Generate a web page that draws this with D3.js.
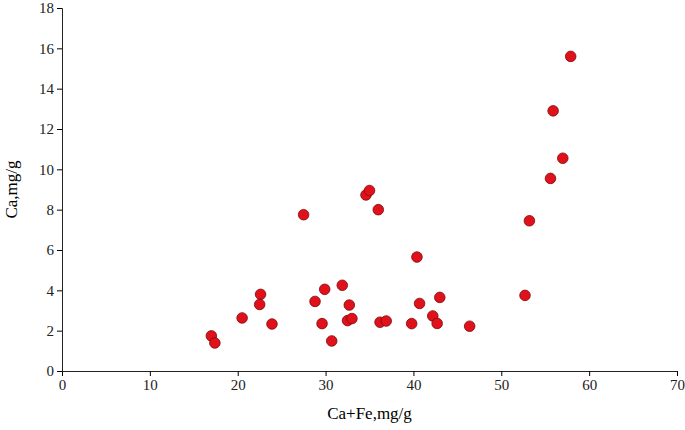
<!DOCTYPE html>
<html><head><meta charset="utf-8">
<script src="https://cdn.jsdelivr.net/npm/d3@7"></script>
<style>body{margin:0;background:#fff}svg text{font-family:"Liberation Serif",serif !important}</style>
</head><body><svg width="685" height="430"></svg>
<script>
// Ca+Fe (mg/g) vs Ca (mg/g)
const caFe = [17.0,17.4,20.5,22.6,22.5,23.9,27.5,28.8,29.6,29.9,30.7,31.9,32.5,32.7,33.0,34.6,35.0,36.0,36.2,36.9,39.8,40.4,40.7,42.2,42.7,43.0,46.4,52.7,53.2,55.6,55.9,57.0,57.9];
const ca   = [1.74,1.39,2.63,3.8,3.3,2.33,7.75,3.45,2.35,4.05,1.49,4.25,2.5,3.27,2.6,8.73,8.95,8.0,2.42,2.48,2.35,5.65,3.35,2.73,2.36,3.65,2.22,3.75,7.45,9.55,12.9,10.55,15.6];
const xTicks = [0,10,20,30,40,50,60,70];
const yTicks = [0,2,4,6,8,10,12,14,16,18];

const margin = {top: 8, right: 8, bottom: 59, left: 62};
const svg = d3.select("svg");
const height = 430 - margin.top - margin.bottom;
const g = svg.append("g").attr("transform", `translate(${margin.left},${margin.top})`);

const x = d3.scaleLinear().domain([0, 70]).range([0, 615]);
const y = d3.scaleLinear().domain([0, 18]).range([height, 0]);

const xa = g.append("g").attr("transform", `translate(0,${height})`)
    .call(d3.axisBottom(x).tickValues(xTicks).tickSizeOuter(0).tickSize(5));
const ya = g.append("g")
    .call(d3.axisLeft(y).tickValues(yTicks).tickSizeOuter(0).tickSize(5));
[xa, ya].forEach(a => {
    a.attr("font-family", null);
    a.selectAll("text").style("font-size", "15px").attr("fill", "#222");
    a.select(".domain").attr("stroke", "#222");
});

g.selectAll("circle").data(caFe).enter().append("circle")
    .attr("cx", d => x(d))
    .attr("cy", (d, i) => y(ca[i]))
    .attr("r", 5.3)
    .attr("fill", "#e0111b")
    .attr("stroke", "#7a0a0a")
    .attr("stroke-width", 0.8);

svg.append("text").attr("x", margin.left + x(35)).attr("y", 419)
    .attr("text-anchor", "middle").style("font-size", "17px").text("Ca+Fe,mg/g");
svg.append("text").attr("transform", `translate(17,${margin.top + height / 2}) rotate(-90)`)
    .attr("text-anchor", "middle").style("font-size", "17px").text("Ca,mg/g");
</script></body></html>
